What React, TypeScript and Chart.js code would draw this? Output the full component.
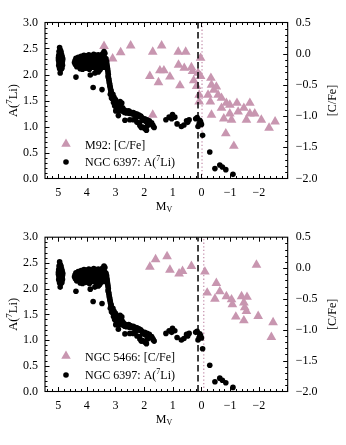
import React, { useEffect, useRef } from "react";
import { Chart, registerables } from "chart.js";

Chart.register(...registerables);

const FONT = "'Liberation Serif', 'DejaVu Serif', serif";
const PINK = "#c896b0";

// Axis ticks (labels)
const X_TICKS = [5, 4, 3, 2, 1, 0, -1, -2];
const LEFT_TICKS = [0, 0.5, 1.0, 1.5, 2.0, 2.5, 3.0];
const RIGHT_TICKS = [0.5, 0.0, -0.5, -1.0, -1.5, -2.0];

// Vertical reference lines (M_V)
const DASH_X = 0.12;
const DOT_X_TOP = -0.02;
const DOT_X_BOTTOM = -0.08;

// NGC 6397: [M_V, A(7Li)]
const NGC6397_LI: [number, number][] = [
  // main-sequence / turn-off clump
  [4.95, 2.52], [4.93, 2.47], [4.97, 2.44], [4.90, 2.42], [4.95, 2.40], [4.88, 2.38], [4.98, 2.37],
  [4.92, 2.35], [4.86, 2.34], [4.96, 2.33], [4.90, 2.31], [4.94, 2.30], [4.87, 2.29], [4.99, 2.28],
  [4.91, 2.27], [4.85, 2.26], [4.95, 2.25], [4.89, 2.24], [4.97, 2.23], [4.92, 2.22], [4.86, 2.21],
  [4.94, 2.20], [4.90, 2.19], [4.98, 2.18], [4.88, 2.17], [4.93, 2.16], [4.96, 2.15], [4.89, 2.14],
  [4.92, 2.13], [4.87, 2.12], [4.95, 2.11], [4.90, 2.10], [4.93, 2.03], [4.91, 2.45], [4.96, 2.36],
  [4.84, 2.30], [4.99, 2.32], [4.88, 2.22], [4.85, 2.18], [4.97, 2.26], [4.93, 2.39],
  // subgiant plateau
  [4.20, 2.35], [4.10, 2.37], [4.02, 2.36], [3.93, 2.38], [3.85, 2.36], [3.76, 2.39], [3.68, 2.37],
  [3.60, 2.38], [3.52, 2.36], [3.45, 2.40], [3.40, 2.44], [3.37, 2.41],
  [4.38, 2.31], [4.30, 2.33], [4.22, 2.32], [4.14, 2.34], [4.06, 2.31], [3.98, 2.33], [3.90, 2.32],
  [3.82, 2.34], [3.74, 2.33], [3.66, 2.31], [3.58, 2.34], [3.50, 2.32], [3.43, 2.35], [3.38, 2.33],
  [4.41, 2.27], [4.33, 2.29], [4.26, 2.28], [4.18, 2.27], [4.11, 2.30], [4.03, 2.28], [3.95, 2.29],
  [3.87, 2.27], [3.79, 2.30], [3.71, 2.28], [3.63, 2.29], [3.55, 2.27], [3.47, 2.30], [3.40, 2.28],
  [4.43, 2.23], [4.36, 2.25], [4.28, 2.24], [4.20, 2.23], [4.12, 2.25], [4.05, 2.24], [3.97, 2.22],
  [3.89, 2.25], [3.81, 2.24], [3.73, 2.23], [3.65, 2.25], [3.57, 2.24], [3.49, 2.23], [3.42, 2.25],
  [3.37, 2.22],
  [4.40, 2.19], [4.31, 2.21], [4.24, 2.20], [4.16, 2.18], [4.08, 2.21], [4.00, 2.19], [3.92, 2.20],
  [3.84, 2.18], [3.76, 2.21], [3.68, 2.19], [3.61, 2.20], [3.53, 2.18], [3.45, 2.21], [3.39, 2.19],
  [4.35, 2.15], [4.27, 2.17], [4.19, 2.16], [4.09, 2.14], [4.01, 2.17], [3.94, 2.15], [3.86, 2.16],
  [3.78, 2.14], [3.70, 2.16], [3.62, 2.13], [3.55, 2.15], [3.47, 2.16], [3.41, 2.14],
  [4.23, 2.11], [4.05, 2.12], [3.91, 2.10], [3.66, 2.09], [3.58, 2.11], [3.51, 2.12],
  [3.60, 2.05], [3.55, 2.08], [4.15, 2.10],
  // outliers below plateau
  [4.38, 1.95], [3.88, 1.99], [3.72, 2.03], [3.78, 1.75], [3.47, 1.71],
  // Li drop
  [3.33, 2.30], [3.31, 2.25], [3.30, 2.20], [3.29, 2.16], [3.28, 2.12], [3.27, 2.08], [3.26, 2.04],
  [3.25, 2.00], [3.26, 1.96], [3.24, 1.93], [3.23, 1.90], [3.22, 1.86], [3.21, 1.83], [3.20, 1.80],
  [3.19, 1.77], [3.18, 1.74], [3.17, 1.71], [3.15, 1.68], [3.16, 1.65], [3.13, 1.62], [3.12, 1.60],
  [3.10, 1.57], [3.11, 1.54], [3.08, 1.52], [3.06, 1.50], [3.04, 1.48], [3.07, 1.46], [3.02, 1.45],
  [3.00, 1.43], [2.98, 1.46], [2.96, 1.41], [2.94, 1.44], [2.92, 1.39], [2.90, 1.37], [2.88, 1.42],
  [2.86, 1.35], [2.84, 1.48], [2.82, 1.38], [2.80, 1.33], [2.78, 1.45], [2.77, 1.31], [2.75, 1.36],
  [3.18, 1.62], [3.14, 1.55], [3.09, 1.62], [3.05, 1.56], [3.00, 1.52], [2.97, 1.36], [3.03, 1.40],
  [2.93, 1.33], [2.87, 1.30], [2.99, 1.30],
  // lower RGB plateau
  [2.73, 1.29], [2.70, 1.32], [2.68, 1.27], [2.65, 1.30], [2.62, 1.26], [2.60, 1.29], [2.57, 1.27],
  [2.54, 1.30], [2.51, 1.25], [2.48, 1.28], [2.45, 1.26], [2.42, 1.24], [2.38, 1.27], [2.35, 1.23],
  [2.32, 1.25], [2.28, 1.22], [2.25, 1.24], [2.22, 1.21], [2.18, 1.22], [2.15, 1.19], [2.12, 1.20],
  [2.08, 1.17], [2.05, 1.14], [2.02, 1.12], [1.98, 1.15], [1.95, 1.10], [1.90, 1.13], [1.86, 1.08],
  [1.82, 1.11], [1.78, 1.06], [1.74, 1.07], [1.70, 1.03], [1.68, 1.00], [1.65, 0.98],
  [2.90, 1.21], [2.67, 1.12], [2.50, 1.13], [2.28, 1.17], [2.16, 1.07], [2.10, 0.98], [2.15, 1.02],
  [2.05, 0.99], [1.98, 0.96], [1.92, 0.93], [1.88, 1.02], [1.80, 1.05], [2.25, 1.08], [2.38, 1.13],
  // bump region
  [1.24, 1.13], [1.13, 1.18], [1.04, 1.15], [0.93, 1.18], [1.01, 1.23], [0.85, 1.05], [0.70, 1.00],
  [0.61, 1.03], [0.52, 1.11], [0.43, 1.13], [0.48, 1.08], [0.20, 1.15], [0.06, 1.12], [0.08, 1.05],
  [0.00, 1.04], [0.12, 1.00], [0.03, 1.09], [0.15, 1.17],
  // upper RGB
  [-0.04, 0.83], [-0.29, 0.51], [-0.47, 0.19], [-0.64, 0.26], [-0.73, 0.22], [-0.85, 0.17], [-1.10, 0.08],
];

// M92: [M_V, [C/Fe]]
const M92_CFE: [number, number][] = [
  [3.40, 0.12], [3.10, -0.08], [2.82, 0.02], [2.47, 0.13],
  [1.80, -0.36], [1.70, 0.03], [1.45, -0.27], [1.31, -0.27], [1.39, 0.13], [1.50, -0.46],
  [1.10, -0.37], [1.70, -0.98],
  [0.81, 0.03], [0.80, -0.18], [0.75, -0.51], [0.55, 0.03], [0.60, -0.23], [0.31, -0.28],
  [0.27, -0.43], [0.35, -0.22], [0.12, -0.31], [0.17, -0.52], [0.03, -0.07], [0.03, -0.36],
  [0.08, -0.66], [0.08, -0.77],
  [-0.33, -0.39], [-0.35, -0.50], [-0.43, -0.58], [-0.52, -0.53], [-0.58, -0.66], [-0.23, -0.66],
  [-0.70, -0.71], [-0.31, -0.77], [-0.87, -0.79], [-0.99, -0.82], [-0.35, -0.98], [-0.70, -0.87],
  [-0.78, -1.04], [-0.99, -0.96], [-1.24, -0.79], [-1.28, -0.93], [-1.05, -1.06], [-1.48, -0.87],
  [-1.69, -0.79], [-1.69, -0.96], [-1.86, -0.96], [-1.57, -1.06], [-2.09, -1.06], [-2.36, -1.19],
  [-2.57, -1.09], [-0.85, -1.28], [-1.13, -1.48],
];

// NGC 5466: [M_V, [C/Fe]]
const NGC5466_CFE: [number, number][] = [
  [1.80, 0.02], [1.60, 0.14], [1.20, 0.19], [1.10, -0.03], [0.78, -0.09], [0.66, -0.05],
  [0.35, 0.03], [-0.12, -0.06], [-0.52, -0.245], [-0.20, -0.40], [-0.64, -0.38], [-0.47, -0.50],
  [-0.87, -0.46], [-1.05, -0.51], [-1.08, -0.59], [-1.40, -0.46], [-1.48, -0.56], [-1.51, -0.64],
  [-1.57, -0.70], [-1.59, -0.47], [-1.20, -0.79], [-1.48, -0.85], [-1.92, 0.05], [-1.98, -0.78],
  [-2.50, -0.88], [-2.44, -1.12],
];

const fmtSigned = (v: number, d: number) => {
  const s = Math.abs(v).toFixed(d);
  return (v < -1e-9 ? "\u2212" : "") + s;
};

type Panel = {
  cfe: [number, number][];
  cfeLabel: string;
  dotX: number;
  padTop: number;
  xAxisHeight: number;
  legendDy: number;
};

// draws prefix + "A(" + superscript 7 + "Li)" starting at (x, baseline y); returns width
function drawLiText(ctx: CanvasRenderingContext2D, prefix: string, x: number, y: number, size: number, measureOnly = false) {
  const big = `${size}px ${FONT}`;
  const small = `${Math.round(size * 0.68)}px ${FONT}`;
  const parts: [string, string, number][] = [
    [prefix + "A(", big, 0],
    ["7", small, -size * 0.38],
    ["Li)", big, 0],
  ];
  let cx = x;
  for (const [t, f, dy] of parts) {
    ctx.font = f;
    if (!measureOnly) ctx.fillText(t, cx, y + dy);
    cx += ctx.measureText(t).width;
  }
  return cx - x;
}

function makeDecor(panel: Panel) {
  return {
    id: "decor",
    afterDraw(chart: any) {
      const { ctx, chartArea: a, scales } = chart;
      const sx = scales.x, sy = scales.y, sy2 = scales.y2;
      ctx.save();
      ctx.strokeStyle = "#000";
      ctx.lineWidth = 1;
      const line = (x1: number, y1: number, x2: number, y2: number) => {
        ctx.beginPath();
        ctx.moveTo(x1, y1);
        ctx.lineTo(x2, y2);
        ctx.stroke();
      };
      // x ticks (bottom & top, inward)
      for (let i = -15; i <= 27; i++) {
        const v = i * 0.2;
        if (v < sx.min || v > sx.max) continue;
        const len = i % 5 === 0 ? 4.5 : 2.5;
        const x = Math.round(sx.getPixelForValue(v)) + 0.5;
        line(x, a.bottom, x, a.bottom - len);
        line(x, a.top, x, a.top + len);
      }
      // left ticks
      for (let i = 1; i < 30; i++) {
        const len = i % 5 === 0 ? 4.5 : 2.5;
        const y = Math.round(sy.getPixelForValue(i * 0.1)) + 0.5;
        line(a.left, y, a.left + len, y);
      }
      // right ticks
      for (let i = -19; i < 5; i++) {
        const len = i % 5 === 0 ? 4.5 : 2.5;
        const y = Math.round(sy2.getPixelForValue(i * 0.1)) + 0.5;
        line(a.right, y, a.right - len, y);
      }
      // frame
      ctx.lineWidth = 1.1;
      ctx.strokeRect(a.left, a.top, a.right - a.left, a.bottom - a.top);

      ctx.fillStyle = "#000";
      const midY = (a.top + a.bottom) / 2;

      // left axis title A(7Li), reading bottom to top
      ctx.save();
      ctx.translate(12, midY);
      ctx.rotate(-Math.PI / 2);
      ctx.textAlign = "left";
      ctx.textBaseline = "alphabetic";
      const lw = drawLiText(ctx, "", 0, 0, 12.5, true);
      drawLiText(ctx, "", -lw / 2, 4.5, 12.5);
      ctx.restore();

      // right axis title, reading bottom to top
      ctx.font = `12px ${FONT}`;
      ctx.save();
      ctx.translate(333, midY);
      ctx.rotate(-Math.PI / 2);
      ctx.textAlign = "center";
      ctx.textBaseline = "middle";
      ctx.fillText("[C/Fe]", 0, 0);
      ctx.restore();

      // x axis title M_V
      ctx.textAlign = "left";
      ctx.textBaseline = "alphabetic";
      ctx.font = `12px ${FONT}`;
      const mW = ctx.measureText("M").width;
      ctx.font = `8px ${FONT}`;
      const vW = ctx.measureText("V").width;
      const cx = 164;
      const x0 = cx - (mW + vW) / 2;
      const by = a.bottom + 31;
      ctx.font = `12px ${FONT}`;
      ctx.fillText("M", x0, by);
      ctx.font = `8px ${FONT}`;
      ctx.fillText("V", x0 + mW, by + 2.5);

      // legend
      const lx = a.left + 21;
      const ty = a.bottom + panel.legendDy;
      const dy = a.bottom - 16.5;
      ctx.fillStyle = PINK;
      const r = 5.5;
      ctx.beginPath();
      ctx.moveTo(lx, ty - r);
      ctx.lineTo(lx + r * Math.sin((2 * Math.PI) / 3), ty - r * Math.cos((2 * Math.PI) / 3));
      ctx.lineTo(lx + r * Math.sin((4 * Math.PI) / 3), ty - r * Math.cos((4 * Math.PI) / 3));
      ctx.closePath();
      ctx.fill();
      ctx.fillStyle = "#000";
      ctx.beginPath();
      ctx.arc(lx, dy, 2.8, 0, Math.PI * 2);
      ctx.fill();
      ctx.font = `12px ${FONT}`;
      ctx.textBaseline = "alphabetic";
      ctx.fillText(panel.cfeLabel, a.left + 40, ty + 5);
      drawLiText(ctx, "NGC 6397: ", a.left + 40, dy + 4, 12);
      ctx.restore();
    },
  };
}

function buildConfig(panel: Panel): any {
  const tickFont = { family: FONT, size: 12 };
  return {
    type: "scatter",
    data: {
      datasets: [
        {
          label: "NGC 6397: A(7Li)",
          data: NGC6397_LI.map(([x, y]) => ({ x, y })),
          yAxisID: "y",
          pointStyle: "circle",
          pointRadius: 2.8,
          backgroundColor: "#000",
          borderWidth: 0,
        },
        {
          label: "dashed",
          data: [{ x: DASH_X, y: 0 }, { x: DASH_X, y: 3 }],
          yAxisID: "y",
          showLine: true,
          pointRadius: 0,
          borderColor: "#000",
          borderWidth: 1.5,
          borderDash: [6.5, 3.5],
          fill: false,
        },
        {
          label: "dotted",
          data: [{ x: panel.dotX, y: 0 }, { x: panel.dotX, y: 3 }],
          yAxisID: "y",
          showLine: true,
          pointRadius: 0,
          borderColor: PINK,
          borderWidth: 1.3,
          borderDash: [1.3, 2.3],
          fill: false,
        },
        {
          label: panel.cfeLabel,
          data: panel.cfe.map(([x, y]) => ({ x, y })),
          yAxisID: "y2",
          pointStyle: "triangle",
          pointRadius: 5.6,
          backgroundColor: PINK,
          borderWidth: 0,
        },
      ],
    },
    options: {
      responsive: false,
      animation: false,
      devicePixelRatio: 1,
      events: [],
      layout: { padding: { top: panel.padTop, left: 0, right: 0, bottom: 0 } },
      plugins: { legend: { display: false }, tooltip: { enabled: false } },
      scales: {
        x: {
          type: "linear",
          reverse: true,
          min: -3.01,
          max: 5.46,
          grid: { display: false, drawTicks: false },
          border: { display: false },
          ticks: {
            font: tickFont,
            color: "#000",
            padding: 7,
            maxRotation: 0,
            autoSkip: false,
            callback: (v: number) => fmtSigned(v, 0),
          },
          afterBuildTicks: (s: any) => {
            s.ticks = X_TICKS.map((v) => ({ value: v }));
          },
          afterFit: (s: any) => {
            s.height = panel.xAxisHeight;
          },
        },
        y: {
          type: "linear",
          position: "left",
          min: 0,
          max: 3,
          grid: { display: false, drawTicks: false },
          border: { display: false },
          ticks: {
            font: tickFont,
            color: "#000",
            padding: 7,
            autoSkip: false,
            callback: (v: number) => fmtSigned(v, 1),
          },
          afterBuildTicks: (s: any) => {
            s.ticks = LEFT_TICKS.map((v) => ({ value: v }));
          },
          afterFit: (s: any) => {
            s.width = 45;
          },
        },
        y2: {
          type: "linear",
          position: "right",
          min: -2,
          max: 0.5,
          grid: { display: false, drawTicks: false },
          border: { display: false },
          ticks: {
            font: tickFont,
            color: "#000",
            padding: 8,
            autoSkip: false,
            callback: (v: number) => fmtSigned(v, 1),
          },
          afterBuildTicks: (s: any) => {
            s.ticks = RIGHT_TICKS.map((v) => ({ value: v }));
          },
          afterFit: (s: any) => {
            s.width = 58.3;
          },
        },
      },
    },
    plugins: [makeDecor(panel)],
  };
}

const TOP_PANEL: Panel = {
  cfe: M92_CFE,
  cfeLabel: "M92: [C/Fe]",
  dotX: DOT_X_TOP,
  padTop: 22.5,
  xAxisHeight: 43.5,
  legendDy: -34.5,
};

const BOTTOM_PANEL: Panel = {
  cfe: NGC5466_CFE,
  cfeLabel: "NGC 5466: [C/Fe]",
  dotX: DOT_X_BOTTOM,
  padTop: 13,
  xAxisHeight: 53.5,
  legendDy: -35.5,
};

function PanelChart({ panel, top, height }: { panel: Panel; top: number; height: number }) {
  const ref = useRef<HTMLCanvasElement | null>(null);
  useEffect(() => {
    if (!ref.current) return;
    const chart = new Chart(ref.current, buildConfig(panel));
    return () => chart.destroy();
  }, [panel]);
  return (
    <canvas
      ref={ref}
      width={346}
      height={height}
      style={{ position: "absolute", left: 0, top, width: 346, height }}
    />
  );
}

export default function App() {
  return (
    <div style={{ position: "fixed", left: 0, top: 0, width: 346, height: 445, background: "#fff" }}>
      <PanelChart panel={TOP_PANEL} top={0} height={222} />
      <PanelChart panel={BOTTOM_PANEL} top={222} height={223} />
    </div>
  );
}
